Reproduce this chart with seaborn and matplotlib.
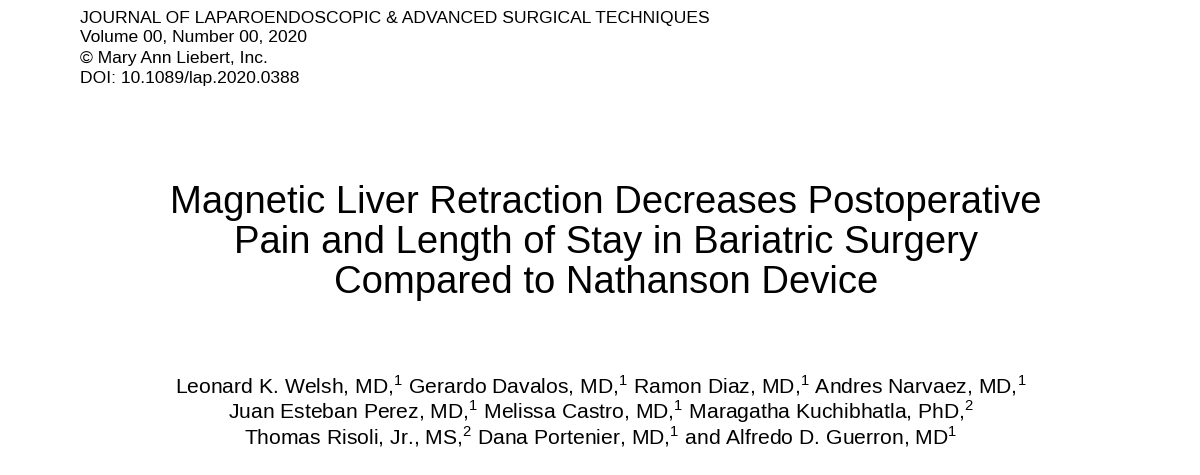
import matplotlib
matplotlib.use("Agg")
import matplotlib.pyplot as plt
import seaborn as sns

sns.set_theme(style="white")
plt.rcParams['font.family'] = ['Liberation Sans', 'DejaVu Sans']
plt.rcParams['mathtext.fontset'] = 'custom'
plt.rcParams['mathtext.rm'] = 'Liberation Sans'

header_lines = [
    "JOURNAL OF LAPAROENDOSCOPIC & ADVANCED SURGICAL TECHNIQUES",
    "Volume 00, Number 00, 2020",
    "© Mary Ann Liebert, Inc.",
    "DOI: 10.1089/lap.2020.0388",
]
title_lines = [
    "Magnetic Liver Retraction Decreases Postoperative",
    "Pain and Length of Stay in Bariatric Surgery",
    "Compared to Nathanson Device",
]
author_lines = [
    r"Leonard K. Welsh, MD,$^{1}$ Gerardo Davalos, MD,$^{1}$ Ramon Diaz, MD,$^{1}$ Andres Narvaez, MD,$^{1}$",
    r"Juan Esteban Perez, MD,$^{1}$ Melissa Castro, MD,$^{1}$ Maragatha Kuchibhatla, PhD,$^{2}$",
    r"Thomas Risoli, Jr., MS,$^{2}$ Dana Portenier, MD,$^{1}$ and Alfredo D. Guerron, MD$^{1}$",
]

fig = plt.figure(figsize=(12, 4.75), dpi=100)
W, H = 1200, 475

for i, line in enumerate(header_lines):
    fig.text(80 / W, 1 - (18 + 20 * i) / H, line, fontsize=12.6, ha="left", va="center", color="black")

for i, line in enumerate(title_lines):
    fig.text(606 / W, 1 - (203 + 40 * i) / H, line, fontsize=27.5, ha="center", va="center", color="black")

for i, line in enumerate(author_lines):
    fig.text(601 / W, 1 - (386 + 25.5 * i) / H, line, fontsize=15.2, ha="center", va="center", color="black")

fig.savefig("out.png", dpi=100, facecolor="white")
